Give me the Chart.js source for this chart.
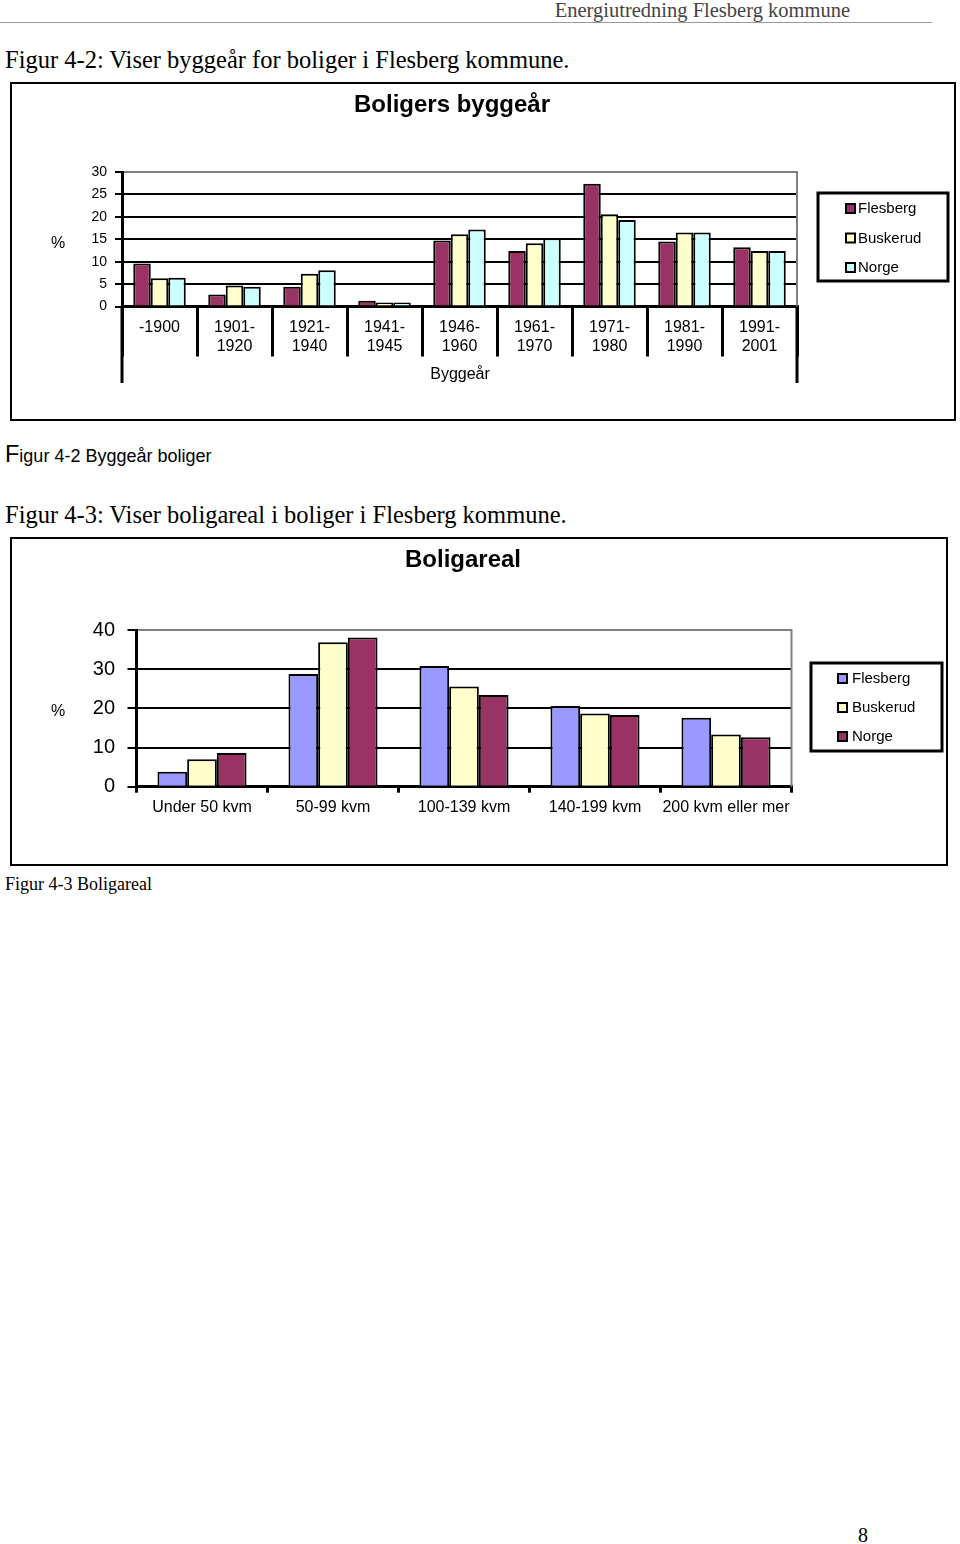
<!DOCTYPE html>
<html lang="no">
<head>
<meta charset="utf-8">
<title>Boligers byggeår og boligareal</title>
<script src="https://cdn.jsdelivr.net/npm/chart.js@4.4.1/dist/chart.umd.min.js"></script>
<style>
  body { margin: 0; background: #fff; width: 960px; height: 1544px; position: relative; overflow: hidden; }
  .serif { font-family: 'Liberation Serif', 'Times New Roman', serif; position: absolute; white-space: nowrap; color: #000; }
  .sans { font-family: 'Liberation Sans', Arial, sans-serif; position: absolute; white-space: nowrap; color: #000; }
  canvas { position: absolute; }
</style>
</head>
<body>

<div class="serif" style="right:110px; top:0px; font-size:20.5px; line-height:20px; color:#444;">Energiutredning Flesberg kommune</div>
<div style="position:absolute; left:0; top:22px; width:932px; height:1px; background:#999;"></div>

<div class="serif" style="left:5px; top:47px; font-size:24.5px; line-height:26px;">Figur 4-2: Viser byggeår for boliger i Flesberg kommune.</div>
<canvas id="grafByggeaar" width="946" height="339" style="left:10px; top:82px;"></canvas>
<div class="sans" style="left:5px; top:442px; font-size:18px; line-height:24px;"><span style="font-size:23.5px;">F</span>igur 4-2 Byggeår boliger</div>

<div class="serif" style="left:5px; top:502px; font-size:24.5px; line-height:26px;">Figur 4-3: Viser boligareal i boliger i Flesberg kommune.</div>
<canvas id="grafAreal" width="938" height="329" style="left:10px; top:537px;"></canvas>
<div class="serif" style="left:5px; top:874px; font-size:18px; line-height:20px;">Figur 4-3 Boligareal</div>

<div class="serif" style="left:858px; top:1524px; font-size:20px; line-height:22px;">8</div>

<script>
// Data: byggeår
const byggeaar = ['-1900', ['1901-', '1920'], ['1921-', '1940'], ['1941-', '1945'], ['1946-', '1960'],
                  ['1961-', '1970'], ['1971-', '1980'], ['1981-', '1990'], ['1991-', '2001']];
const byggeaarFlesberg = [9.6, 2.7, 4.4, 1.3, 14.7, 12.4, 27.4, 14.5, 13.2];
const byggeaarBuskerud = [6.3, 4.7, 7.3, 0.9, 16.1, 14.1, 20.6, 16.5, 12.4];
const byggeaarNorge    = [6.4, 4.4, 8.1, 0.9, 17.2, 15.2, 19.3, 16.5, 12.4];
const byggeaarTicks    = [0, 5, 10, 15, 20, 25, 30];

// Data: boligareal
const arealKategorier = ['Under 50 kvm', '50-99 kvm', '100-139 kvm', '140-199 kvm', '200 kvm eller mer'];
const arealFlesberg   = [3.8, 28.8, 30.8, 20.6, 17.6];
const arealBuskerud   = [7.0, 36.9, 25.6, 18.7, 13.3];
const arealNorge      = [8.6, 38.1, 23.4, 18.3, 12.6];
const arealTicks      = [0, 10, 20, 30, 40];

const sans = "'Liberation Sans', Arial, sans-serif";
Chart.defaults.font.family = sans;
Chart.defaults.color = '#000';

// Ramme, tittel, legende og forlengede akselinjer
const rammePlugin = {
  id: 'ramme',
  afterDraw(chart, args, o) {
    const ctx = chart.ctx;
    const a = chart.chartArea;
    ctx.save();

    // ytre ramme
    ctx.strokeStyle = '#000';
    ctx.lineWidth = 2;
    ctx.strokeRect(1, 1, chart.width - 2, chart.height - 2);

    // grå høyrekant på plottet
    ctx.strokeStyle = '#808080';
    ctx.beginPath();
    ctx.moveTo(a.right, a.top - 1);
    ctx.lineTo(a.right, a.bottom);
    ctx.stroke();

    // venstre og høyre akse forlenget nedover
    if (o.forlengTil) {
      ctx.strokeStyle = '#000';
      ctx.lineWidth = 3;
      ctx.beginPath();
      ctx.moveTo(a.left, a.bottom);
      ctx.lineTo(a.left, o.forlengTil);
      ctx.moveTo(a.right, a.bottom);
      ctx.lineTo(a.right, o.forlengTil);
      ctx.stroke();
    }

    ctx.fillStyle = '#000';
    ctx.textAlign = 'center';
    ctx.textBaseline = 'middle';
    ctx.font = 'bold 24px ' + sans;
    ctx.fillText(o.tittel, o.tittelX, o.tittelY);

    ctx.font = '16px ' + sans;
    ctx.fillText('%', o.prosentX, o.prosentY);
    if (o.xTittel) ctx.fillText(o.xTittel, o.xTittelX, o.xTittelY);

    // legende
    const L = o.legende;
    ctx.lineWidth = 3;
    ctx.strokeStyle = '#000';
    ctx.strokeRect(L.x, L.y, L.w, L.h);
    ctx.font = '15px ' + sans;
    ctx.textAlign = 'left';
    chart.data.datasets.forEach((ds, i) => {
      const y = L.forsteY + i * L.avstand;
      ctx.fillStyle = ds.backgroundColor;
      ctx.fillRect(L.markX, y - 5, 9, 9);
      ctx.lineWidth = 2;
      ctx.strokeRect(L.markX, y - 5, 9, 9);
      ctx.fillStyle = '#000';
      ctx.fillText(ds.label, L.tekstX, y);
    });

    ctx.restore();
  }
};

function lagDatasett(navn, verdier, farge) {
  return {
    label: navn,
    data: verdier,
    backgroundColor: farge,
    borderColor: '#000',
    borderWidth: 2,
    barPercentage: 1.0
  };
}

// Figur 4-2
new Chart(document.getElementById('grafByggeaar'), {
  type: 'bar',
  data: {
    labels: byggeaar,
    datasets: [
      lagDatasett('Flesberg', byggeaarFlesberg, '#993366'),
      lagDatasett('Buskerud', byggeaarBuskerud, '#FFFFCC'),
      lagDatasett('Norge', byggeaarNorge, '#CCFFFF')
    ]
  },
  options: {
    responsive: false,
    animation: false,
    datasets: { bar: { categoryPercentage: 0.7 } },
    layout: { padding: { left: 52, right: 159, top: 90, bottom: 34.5 } },
    plugins: {
      legend: { display: false },
      tooltip: { enabled: false },
      ramme: {
        tittel: 'Boligers byggeår', tittelX: 442, tittelY: 23,
        prosentX: 48, prosentY: 162,
        xTittel: 'Byggeår', xTittelX: 450, xTittelY: 293,
        forlengTil: 301,
        legende: { x: 808, y: 111, w: 130, h: 88, markX: 836, tekstX: 848, forsteY: 127, avstand: 29.5 }
      }
    },
    scales: {
      x: {
        afterFit: s => { s.height = 80; },
        grid: { offset: true, drawOnChartArea: false, color: '#000', lineWidth: 3, tickLength: 50 },
        border: { display: true, color: '#000', width: 3 },
        ticks: { autoSkip: false, maxRotation: 0, padding: -38, font: { size: 16, lineHeight: 1.15 } }
      },
      y: {
        min: 0, max: 30,
        afterFit: s => { s.width = 60; },
        afterBuildTicks: s => { s.ticks = byggeaarTicks.map(v => ({ value: v })); },
        grid: {
          color: c => (c.tick && c.tick.value === 30 ? '#808080' : '#000'),
          lineWidth: 2, tickColor: '#000', tickLength: 7
        },
        border: { display: true, color: '#000', width: 3 },
        ticks: { padding: 8, font: { size: 14 } }
      }
    }
  },
  plugins: [rammePlugin]
});

// Figur 4-3
new Chart(document.getElementById('grafAreal'), {
  type: 'bar',
  data: {
    labels: arealKategorier,
    datasets: [
      lagDatasett('Flesberg', arealFlesberg, '#9999FF'),
      lagDatasett('Buskerud', arealBuskerud, '#FFFFCC'),
      lagDatasett('Norge', arealNorge, '#993366')
    ]
  },
  options: {
    responsive: false,
    animation: false,
    datasets: { bar: { categoryPercentage: 0.68 } },
    layout: { padding: { left: 66.5, right: 156.5, top: 93, bottom: 29.3 } },
    plugins: {
      legend: { display: false },
      tooltip: { enabled: false },
      ramme: {
        tittel: 'Boligareal', tittelX: 453, tittelY: 23,
        prosentX: 48, prosentY: 175,
        legende: { x: 801, y: 126, w: 131, h: 88, markX: 828, tekstX: 842, forsteY: 142, avstand: 29 }
      }
    },
    scales: {
      x: {
        afterFit: s => { s.height = 50; },
        grid: { offset: true, drawOnChartArea: false, color: '#000', lineWidth: 3, tickLength: 6 },
        border: { display: true, color: '#000', width: 3 },
        ticks: { autoSkip: false, maxRotation: 0, padding: 5, font: { size: 16 } }
      },
      y: {
        min: 0, max: 40,
        afterFit: s => { s.width = 60; },
        afterBuildTicks: s => { s.ticks = arealTicks.map(v => ({ value: v })); },
        grid: {
          color: c => (c.tick && c.tick.value === 40 ? '#808080' : '#000'),
          lineWidth: 2, tickColor: '#000', tickLength: 9
        },
        border: { display: true, color: '#000', width: 3 },
        ticks: { padding: 12.5, font: { size: 20 } }
      }
    }
  },
  plugins: [rammePlugin]
});
</script>
</body>
</html>
